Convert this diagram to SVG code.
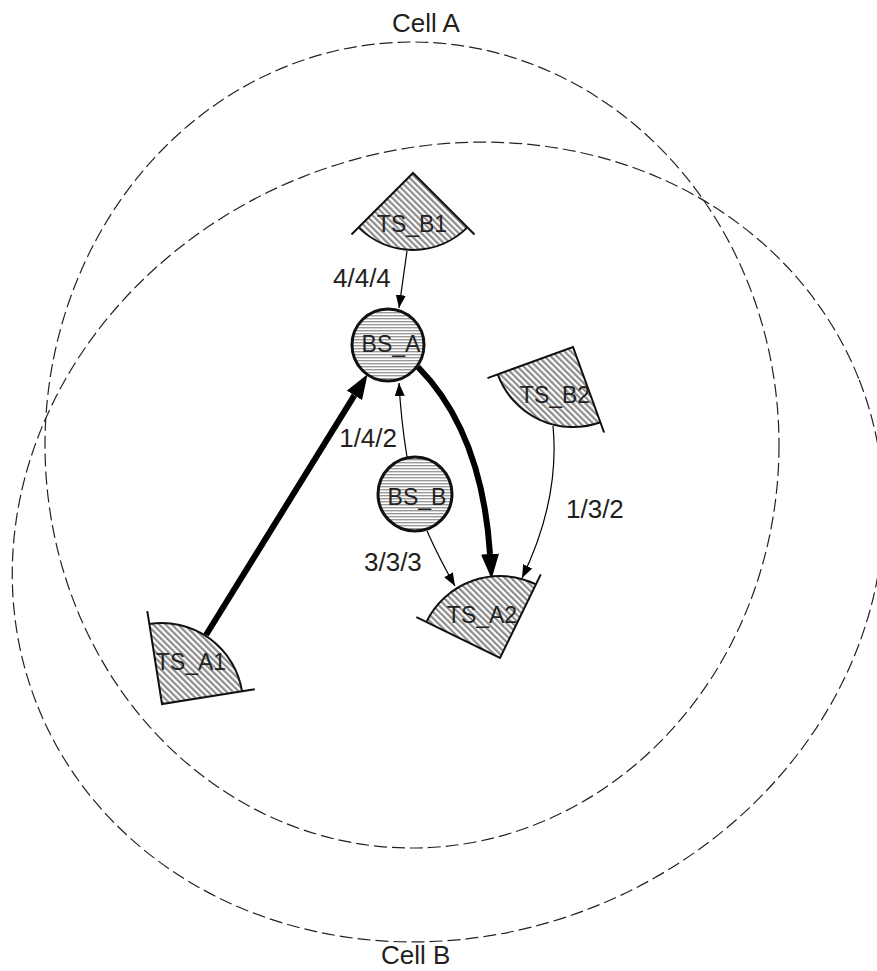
<svg xmlns="http://www.w3.org/2000/svg" width="877" height="971" viewBox="0 0 877 971">
<style>
.cell{fill:none;stroke:#222;stroke-width:1.2;stroke-dasharray:13 5}
.lbl{font-family:"Liberation Sans",Arial,sans-serif;font-size:26px;fill:#231f20}
.nl{font-family:"Liberation Sans",Arial,sans-serif;font-size:23px;fill:#222;text-anchor:middle}
.sec{fill:url(#diag);stroke:none}
.edge{fill:none;stroke:#000}
.thin{stroke-width:1.2}
.thick{stroke-width:6}
.out{fill:none;stroke:#111;stroke-width:2}
.bs{fill:url(#horiz);stroke:#111;stroke-width:3}
</style>
<defs>
<pattern id="diag" patternUnits="userSpaceOnUse" width="4.4" height="4.4" patternTransform="rotate(-45)">
<rect width="4.4" height="4.4" fill="#fff"/>
<rect x="0" y="0" width="2.2" height="4.4" fill="#8c8c8c"/>
</pattern>
<pattern id="horiz" patternUnits="userSpaceOnUse" width="4" height="3">
<rect width="4" height="3" fill="#fff"/>
<rect x="0" y="0" width="4" height="1.4" fill="#999"/>
</pattern>
<marker id="ah" markerUnits="userSpaceOnUse" markerWidth="14" markerHeight="10" refX="13" refY="5" orient="auto">
<path d="M0,0 L13,5 L0,10 Z" fill="#000"/>
</marker>
<marker id="AH" markerUnits="userSpaceOnUse" markerWidth="26" markerHeight="18" refX="0" refY="9" orient="auto">
<path d="M0,0 L25,9 L0,18 Z" fill="#000"/>
</marker>
</defs>
<g id="cellA">
<ellipse class="cell" cx="412" cy="445" rx="367" ry="403"/>
<text class="lbl" x="392" y="32">Cell A</text>
</g>
<g id="cellB">
<ellipse class="cell" cx="448" cy="542" rx="442" ry="393" transform="rotate(-21.5 448 542)"/>
<text class="lbl" x="381" y="964">Cell B</text>
</g>
<g id="connectors">
<path class="edge thin" d="M407,251 L399,308" marker-end="url(#ah)"/>
<path class="edge thin" d="M407,457 Q401,420 399,383" marker-end="url(#ah)"/>
<path class="edge thin" d="M427,531 Q440,560 455,586" marker-end="url(#ah)"/>
<path class="edge thin" d="M553,426 Q560,500 522,578" marker-end="url(#ah)"/>
<path class="edge thick" d="M206,635 L354.4,395.4" marker-end="url(#AH)"/>
<path class="edge thick" d="M418,367 Q482,432 490,554" marker-end="url(#AH)"/>
<text class="lbl" x="333" y="287">4/4/4</text>
<text class="lbl" x="397" y="447" text-anchor="end">1/4/2</text>
<text class="lbl" x="364" y="571">3/3/3</text>
<text class="lbl" x="566" y="518">1/3/2</text>
</g>
<g id="TS_B1">
<path class="sec" d="M413,173 L358.6,227.4 A77,77 0 0 0 467.4,227.4 Z"/>
<path class="out" d="M351.5,234.5 L413,173 L474.5,234.5 M358.6,227.4 A77,77 0 0 0 467.4,227.4"/>
<text class="nl" x="412" y="232">TS_B1</text>
</g>
<g id="TS_B2">
<path class="sec" d="M573,347 L497.8,374.4 A80,80 0 0 0 600.4,422.2 Z"/>
<path class="out" d="M487.5,378.1 L573,347 L604.1,432.5 M497.8,374.4 A80,80 0 0 0 600.4,422.2"/>
<text class="nl" x="555" y="403">TS_B2</text>
</g>
<g id="TS_A2">
<path class="sec" d="M500,658 L426.3,622.1 A82,82 0 0 1 535.9,584.3 Z"/>
<path class="out" d="M416.4,617.2 L500,658 L540.8,574.4 M426.3,622.1 A82,82 0 0 1 535.9,584.3"/>
<text class="nl" x="482" y="623">TS_A2</text>
</g>
<g id="TS_A1">
<path class="sec" d="M162,704 L149.3,624 A81,81 0 0 1 242,691.3 Z"/>
<path class="out" d="M147.3,611.2 L162,704 L254.8,689.3 M149.3,624 A81,81 0 0 1 242,691.3"/>
<text class="nl" x="191" y="670">TS_A1</text>
</g>
<g id="BS_A">
<circle class="bs" cx="388" cy="345" r="36"/>
<text class="nl" x="391" y="352">BS_A</text>
</g>
<g id="BS_B">
<circle class="bs" cx="415" cy="494" r="37"/>
<text class="nl" x="417" y="505">BS_B</text>
</g>
</svg>
